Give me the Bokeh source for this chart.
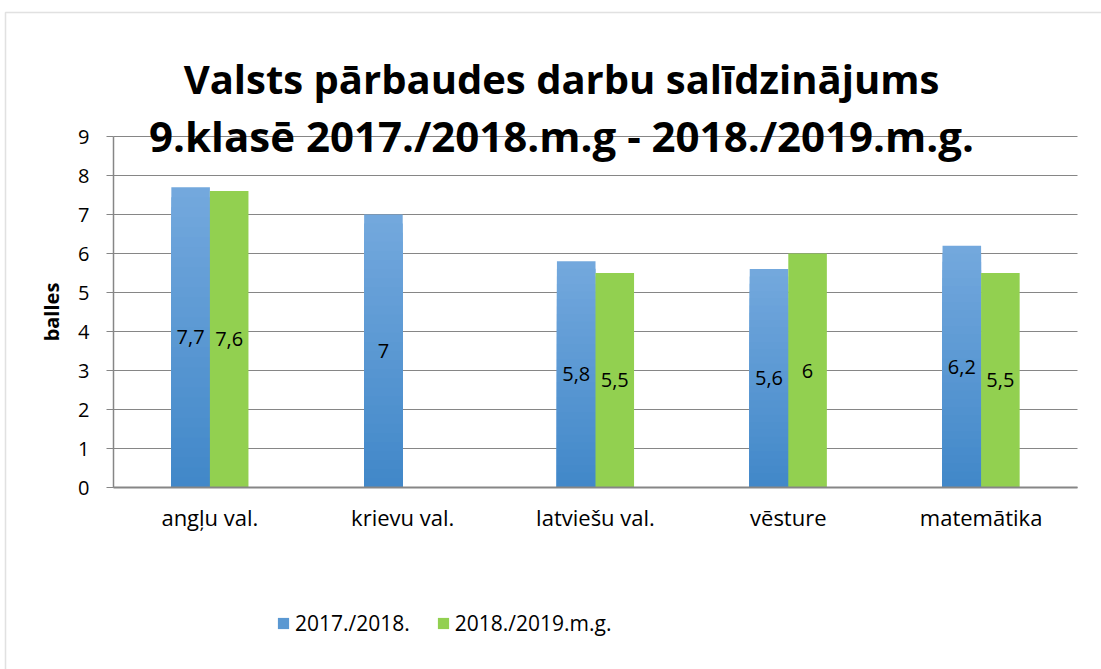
import numpy as np
from bokeh.plotting import figure
from bokeh.models import (Range1d, FixedTicker, Label, Legend, LegendItem,
                          BoxAnnotation)
from bokeh.core.properties import value
from bokeh.embed import file_html
from bokeh.resources import INLINE

# ---- data ----
categories = ["angļu val.", "krievu val.", "latviešu val.", "vēsture", "matemātika"]
series_names = ["2017./2018.", "2018./2019.m.g."]
vals_2017 = [7.7, 7.0, 5.8, 5.6, 6.2]
vals_2018 = [7.6, None, 5.5, 6.0, 5.5]
y_ticks = [0, 1, 2, 3, 4, 5, 6, 7, 8, 9]
title_lines = ["Valsts pārbaudes darbu salīdzinājums",
               "9.klasē 2017./2018.m.g - 2018./2019.m.g."]
y_label = "balles"

FONT = "Open Sans"
GREY = "#868686"
BLUE_TOP = np.array([115, 168, 221])
BLUE_BOT = np.array([64, 135, 200])
GREEN = "#92D050"

W, H = 1101, 669
n = len(categories)
centers = [i + 0.5 for i in range(n)]
bw = 0.2

# layout geometry (pixels): plot area from x=113..1077, y(0)=487, y(9)=136
X0, X1, Y0, Y9 = 113.0, 1077.0, 487.0, 136.0
ppx = (X1 - X0) / n
ppy = (Y0 - Y9) / 9.0

p = figure(width=W, height=H, output_backend="svg", toolbar_location=None,
           x_range=Range1d(-X0 / ppx, n + (W - X1) / ppx),
           y_range=Range1d(-(H - Y0) / ppy, Y0 / ppy),
           min_border_left=0, min_border_right=0,
           min_border_top=0, min_border_bottom=0)
p.outline_line_color = None
p.background_fill_color = "white"
p.border_fill_color = "white"

# gridlines (limited to the plot area horizontally)
try:
    p.ygrid.cross_bounds = (0, n)
    p.ygrid.ticker = FixedTicker(ticks=y_ticks)
    p.ygrid.grid_line_color = GREY
    p.ygrid.grid_line_width = 1
except Exception:
    p.ygrid.grid_line_color = None
    p.segment(x0=[0] * len(y_ticks), x1=[n] * len(y_ticks), y0=y_ticks, y1=y_ticks,
              line_color=GREY, line_width=1)
p.xgrid.grid_line_color = None

# blue bars with vertical gradient (light top -> dark bottom), overlapping slices
N = 30
x_blue = [c - bw / 2 for c in centers]
blue_renderers = []
for k in range(N, 0, -1):
    t = k / N
    col = BLUE_BOT + (BLUE_TOP - BLUE_BOT) * t
    hexc = "#%02x%02x%02x" % tuple(int(round(v)) for v in col)
    r = p.vbar(x=x_blue, width=bw, bottom=0, top=[v * t for v in vals_2017],
               fill_color=hexc, line_color=None)
    blue_renderers.append(r)

# green bars
x_green = [c + bw / 2 for c in centers]
top_green = [np.nan if v is None else v for v in vals_2018]
r_green = p.vbar(x=x_green, width=bw, bottom=0, top=top_green,
                 fill_color=GREEN, line_color=None)

# data labels
def fmt(v):
    return ("%g" % v).replace(".", ",")

lab_x, lab_y, lab_t = [], [], []
for xb, v in zip(x_blue, vals_2017):
    lab_x.append(xb); lab_y.append(v / 2); lab_t.append(fmt(v))
for xg, v in zip(x_green, vals_2018):
    if v is not None:
        lab_x.append(xg); lab_y.append(v / 2); lab_t.append(fmt(v))
p.text(x=lab_x, y=lab_y, text=lab_t, text_align="center", text_baseline="middle",
       text_font=value(FONT), text_font_size="20px", text_color="black")

# axes
p.xaxis.fixed_location = 0
p.xaxis.bounds = (0, n)
p.xaxis.ticker = FixedTicker(ticks=centers)
p.xaxis.major_label_overrides = {c: cat for c, cat in zip(centers, categories)}
p.xaxis.major_tick_line_color = None
p.xaxis.minor_tick_line_color = None
p.xaxis.axis_line_color = GREY
p.xaxis.axis_line_width = 2
p.xaxis.major_label_text_font = FONT
p.xaxis.major_label_text_font_size = "22px"
p.xaxis.major_label_text_color = "black"
p.xaxis.major_label_standoff = 8

p.yaxis.fixed_location = 0
p.yaxis.bounds = (0, 9)
p.yaxis.ticker = FixedTicker(ticks=y_ticks)
p.yaxis.axis_line_color = GREY
p.yaxis.axis_line_width = 1.5
p.yaxis.major_tick_line_color = GREY
p.yaxis.major_tick_out = 7
p.yaxis.major_tick_in = 0
p.yaxis.minor_tick_line_color = None
p.yaxis.major_label_text_font = FONT
p.yaxis.major_label_text_font_size = "20px"
p.yaxis.major_label_text_color = "black"
p.yaxis.major_label_standoff = 17
p.yaxis.axis_label = y_label
p.yaxis.axis_label_text_font = FONT
p.yaxis.axis_label_text_font_style = "bold"
p.yaxis.axis_label_text_font_size = "20px"
p.yaxis.axis_label_text_color = "black"
p.yaxis.axis_label_standoff = 10

# title
tx = (561 - X0) / ppx
p.add_layout(Label(x=tx, y=(Y0 - 78) / ppy, text=title_lines[0], text_align="center",
                   text_baseline="alphabetic", text_font=FONT, text_font_style="bold",
                   text_font_size="40px", text_color="black"))
p.add_layout(Label(x=tx, y=(Y0 - 135) / ppy, text=title_lines[1], text_align="center",
                   text_baseline="alphabetic", text_font=FONT, text_font_style="bold",
                   text_font_size="42px", text_color="black"))

# outer border
p.add_layout(BoxAnnotation(left=(5 - X0) / ppx, right=n + 5, top=(Y0 - 12) / ppy,
                           bottom=-20, fill_color=None, fill_alpha=0,
                           line_color="#9a9a9a", line_width=1.5))

# legend
legend = Legend(items=[LegendItem(label=series_names[0], renderers=[blue_renderers[N // 2]]),
                       LegendItem(label=series_names[1], renderers=[r_green])],
                location=(276, 32), orientation="horizontal",
                glyph_width=14, glyph_height=14, label_text_font=FONT,
                label_text_font_size="21px", label_text_color="black",
                border_line_color=None, background_fill_alpha=0,
                padding=0, margin=0, spacing=26, label_standoff=5)
p.add_layout(legend)

open("out.html", "w").write(file_html(p, INLINE))
